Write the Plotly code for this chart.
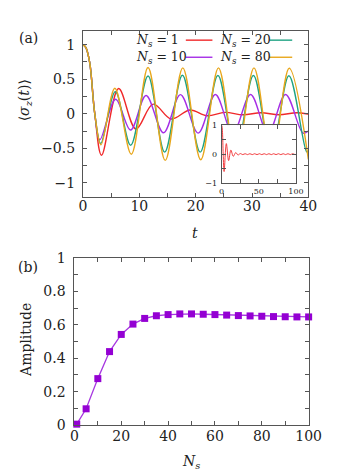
import plotly.graph_objects as go

# ---- panel (a): <sigma_z(t)> (extrema + a few points) ----
t_r = [0, 0.5, 1.2, 2.1, 3.3, 6.33, 9.4, 12.45, 15.65, 19.0, 22.0, 25.2, 28.4, 31.6,
       34.8, 38.0, 41.2, 44.4, 47.6, 50.8, 54.0, 57.2, 60.4, 63.6, 66.8, 70.0, 73.2,
       76.4, 79.6, 82.8, 86.0, 89.2, 92.4, 95.6, 98.8, 100]
y_r = [1, 0.96, 0.74, 0.0, -0.6, 0.365, -0.22, 0.14, -0.075, 0.055, -0.028, 0.02, -0.015, 0.015,
       -0.015, 0.015, -0.015, 0.015, -0.015, 0.015, -0.015, 0.015, -0.015, 0.015, -0.015, 0.015, -0.015,
       0.015, -0.015, 0.015, -0.015, 0.015, -0.015, 0.015, -0.015, 0.0]

t_p = [0, 0.5, 1.2, 2.1, 3.0, 5.8, 8.45, 11.2, 14.3, 17.3, 20.45, 23.5, 26.6, 29.75, 32.85, 35.95, 39.05, 40]
y_p = [1, 0.96, 0.74, 0.0, -0.375, 0.21, -0.235, 0.265, -0.275, 0.277, -0.28, 0.28, -0.28, 0.28, -0.28, 0.28, -0.28, -0.25]

t_g = [0, 0.5, 1.2, 2.1, 3.15, 5.75, 8.47, 11.55, 14.5, 17.65, 20.8, 23.95, 27.1, 30.25, 33.4, 36.55, 39.7, 40]
y_g = [1, 0.96, 0.74, 0.0, -0.43, 0.32, -0.455, 0.546, -0.555, 0.557, -0.555, 0.555, -0.555, 0.555, -0.555, 0.55, -0.55, -0.535]

t_o = [0, 0.5, 1.2, 2.1, 3.2, 5.66, 8.58, 11.55, 14.6, 17.72, 20.9, 24.05, 27.2, 30.35, 33.5, 36.6, 40]
y_o = [1, 0.96, 0.74, 0.0, -0.45, 0.37, -0.585, 0.67, -0.675, 0.665, -0.665, 0.665, -0.665, 0.665, -0.665, 0.66, -0.66]

# ---- panel (b): amplitude vs N_s ----
ns = [1, 5, 10, 15, 20, 25, 30, 35, 40, 45, 50, 55, 60, 65, 70, 75, 80, 85, 90, 95, 100]
amp = [0.005, 0.097, 0.278, 0.44, 0.543, 0.605, 0.639, 0.655, 0.662, 0.666, 0.666,
       0.664, 0.662, 0.659, 0.656, 0.654, 0.652, 0.65, 0.649, 0.648, 0.648]

FONT = "DejaVu Serif"
RED, PURPLE, TEAL, ORANGE = "#f0282a", "#a52ee6", "#1fa383", "#e8a71c"
W, H = 339, 473


def px_x(a, b):
    return [a / W, b / W]


def px_y(top, bottom):
    return [1 - bottom / H, 1 - top / H]


def axis(domain, anchor, rng, dtick, minor, size=14, standoff=4):
    return dict(
        domain=domain, anchor=anchor, range=rng, dtick=dtick, tick0=0,
        showline=True, mirror="allticks", linecolor="#555", linewidth=1,
        ticks="inside", ticklen=4, tickcolor="#555", tickwidth=1,
        minor=dict(dtick=minor, ticks="inside", ticklen=4, tickcolor="#555"),
        showgrid=False, zeroline=False,
        tickfont=dict(family=FONT, size=size, color="#222"),
        ticklabelstandoff=standoff,
    )


fig = go.Figure()

for t, y, c in [(t_r, y_r, RED), (t_p, y_p, PURPLE), (t_g, y_g, TEAL), (t_o, y_o, ORANGE)]:
    fig.add_trace(go.Scatter(x=t, y=y, mode="lines", line=dict(color=c, width=1.4, shape="spline"),
                             xaxis="x", yaxis="y", showlegend=False, hoverinfo="skip"))

fig.add_trace(go.Scatter(x=ns, y=amp, mode="lines+markers",
                         line=dict(color="#a738e0", width=1.3),
                         marker=dict(symbol="square", size=7, color="#9400D3"),
                         xaxis="x2", yaxis="y2", showlegend=False, cliponaxis=False))

# inset: white panel covering the main curves, then N_s = 1 up to t = 100
fig.add_trace(go.Scatter(x=[0, 100, 100, 0, 0], y=[-1, -1, 1, 1, -1], mode="lines",
                         fill="toself", fillcolor="white", line=dict(width=0),
                         xaxis="x3", yaxis="y3", showlegend=False, hoverinfo="skip"))
fig.add_trace(go.Scatter(x=t_r, y=y_r, mode="lines", line=dict(color=RED, width=0.9, shape="spline"),
                         xaxis="x3", yaxis="y3", showlegend=False, hoverinfo="skip"))

# custom key: text first, line sample after it (gnuplot style)
key = [("1", RED, 128, 25, 183, 211), ("10", PURPLE, 128, 42.7, 183, 211),
       ("20", TEAL, 217, 25, 271, 295), ("80", ORANGE, 217, 42.7, 271, 295)]
annotations = []
shapes = []
for lab, c, tx, ty, l0, l1 in key:
    annotations.append(dict(x=tx / W, y=1 - ty / H, xref="paper", yref="paper", xanchor="left",
                            yanchor="middle", showarrow=False,
                            text=f"<i>N</i><sub><i>s</i></sub> = {lab}",
                            font=dict(family=FONT, size=12.5, color="#222")))
    shapes.append(dict(type="line", xref="paper", yref="paper", x0=l0 / W, x1=l1 / W,
                       y0=1 - ty / H, y1=1 - ty / H, line=dict(color=c, width=1.4)))


def label(text, x, y, size=14, angle=0):
    annotations.append(dict(x=x / W, y=1 - y / H, xref="paper", yref="paper", text=text,
                            showarrow=False, textangle=angle, xanchor="center", yanchor="middle",
                            font=dict(family=FONT, size=size, color="#222")))


label("(a)", 17, 23)
label("(b)", 17, 260)
label("<i>t</i>", 193, 225)
label("<i>N</i><sub><i>s</i></sub>", 188, 462)
label("⟨<i>σ</i><sub><i>z</i></sub>(<i>t</i>)⟩", 14, 87, angle=-90)
label("Amplitude", 14, 335, angle=-90)

fig.update_layout(
    width=W, height=H,
    margin=dict(l=0, r=0, t=0, b=0),
    paper_bgcolor="white", plot_bgcolor="white",
    xaxis=axis(px_x(74.7, 312), "y", [0, 40], 10, 5, standoff=-3),
    yaxis=axis(px_y(15.4, 187), "x", [-1.2, 1.2], 0.5, 0.25, standoff=4),
    xaxis2=axis(px_x(65.7, 312.3), "y2", [0, 100], 20, 10, standoff=-2),
    yaxis2=axis(px_y(250.7, 423.3), "x2", [0, 1], 0.2, 0.1, standoff=5),
    xaxis3=axis(px_x(220.7, 299), "y3", [0, 100], 50, 25, size=8, standoff=0),
    yaxis3=axis(px_y(113, 173), "x3", [-1, 1], 1, 0.5, size=8, standoff=2),
    annotations=annotations,
    shapes=shapes,
)

fig.write_html("out.html")
